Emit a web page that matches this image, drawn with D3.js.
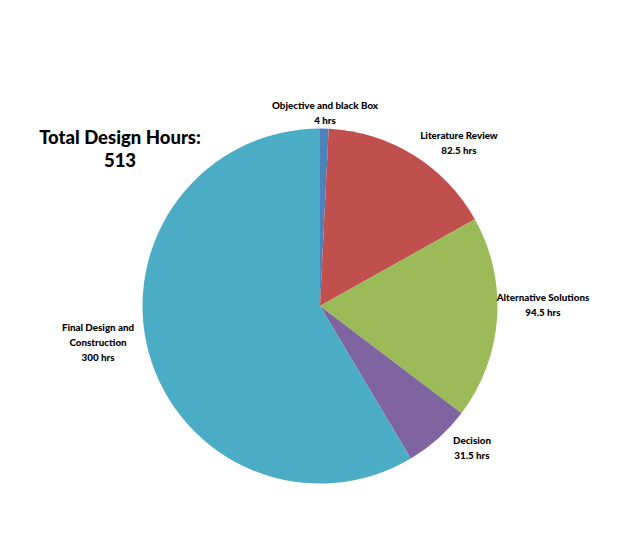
<!DOCTYPE html>
<html><head><meta charset="utf-8">
<script src="https://cdn.jsdelivr.net/npm/d3@7"></script>
<style>body{margin:0;background:#fff}svg{display:block}text{font-family:Lato,"Open Sans",sans-serif;font-weight:900;fill:#000}</style>
</head><body>
<script>
const categories = ["Objective and black Box","Literature Review","Alternative Solutions","Decision","Final Design and Construction"];
const hours = [4, 82.5, 94.5, 31.5, 300];
const valueLabels = ["4 hrs","82.5 hrs","94.5 hrs","31.5 hrs","300 hrs"];
const colors = ["#4F81BD","#C0504D","#9BBB59","#8064A2","#4BACC6"];
const titleLines = ["Total Design Hours:","513"];

const W=640,H=537,cx=320,cy=306,R=177.5;
const svg=d3.select("body").append("svg").attr("width",W).attr("height",H);
const pie=d3.pie().sort(null).value(d=>d)(hours);
const arc=d3.arc().innerRadius(0).outerRadius(R);
const g=svg.append("g").attr("transform",`translate(${cx},${cy})`);
g.selectAll("path").data(pie).join("path").attr("d",arc).attr("fill",(d,i)=>colors[i]);

const labelLines=[
  [categories[0],valueLabels[0]],
  [categories[1],valueLabels[1]],
  [categories[2],valueLabels[2]],
  [categories[3],valueLabels[3]],
  ["Final Design and","Construction",valueLabels[4]]
];
const labelPos=[[325,109],[459,139],[543,301],[472,444],[98,331]];
labelLines.forEach((lines,i)=>{
  const t=svg.append("text").attr("text-anchor","middle").attr("font-size",9.8)
    .attr("transform",`translate(${labelPos[i][0]},${labelPos[i][1]})`);
  lines.forEach((s,j)=>t.append("tspan").attr("x",0).attr("y",j*15).text(s));
});
const tt=svg.append("text").attr("text-anchor","middle").attr("font-size",18.5).attr("font-weight","bold").attr("transform","translate(120,144)");
titleLines.forEach((s,j)=>tt.append("tspan").attr("x",0).attr("y",j*23).text(s));
</script>
</body></html>
